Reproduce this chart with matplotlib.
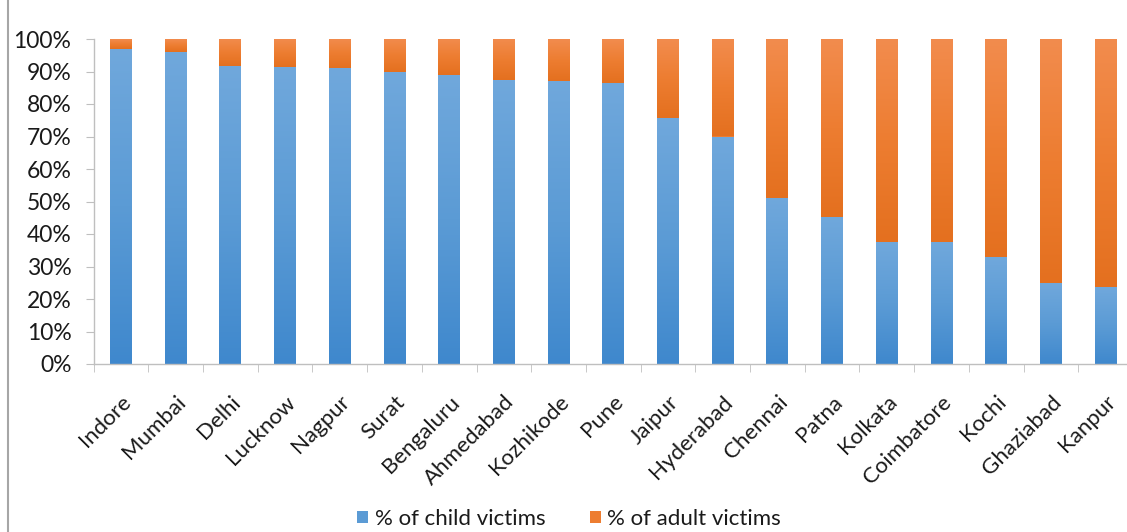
import numpy as np
import matplotlib.pyplot as plt
from matplotlib.lines import Line2D
from matplotlib.colors import LinearSegmentedColormap
from matplotlib.ticker import PercentFormatter

plt.rcParams['font.family'] = ['Lato', 'DejaVu Sans']

# share of child vs adult victims per city (%)
cities = ['Indore', 'Mumbai', 'Delhi', 'Lucknow', 'Nagpur', 'Surat', 'Bengaluru',
          'Ahmedabad', 'Kozhikode', 'Pune', 'Jaipur', 'Hyderabad', 'Chennai',
          'Patna', 'Kolkata', 'Coimbatore', 'Kochi', 'Ghaziabad', 'Kanpur']
child_pct = [97, 96, 91.6, 91.3, 91, 89.8, 88.9, 87.3, 87.2, 86.5, 75.8, 70,
             51.2, 45.3, 37.4, 37.4, 32.9, 24.8, 23.6]
adult_pct = [100 - c for c in child_pct]

blue = '#5b9bd5'
orange = '#ed7d31'
# light top -> darker bottom, like the office gradient fill
blue_grad = LinearSegmentedColormap.from_list('b', ['#3f88cd', '#5b9bd5', '#70a8dc'])
orange_grad = LinearSegmentedColormap.from_list('o', ['#e4701f', '#ed7d31', '#f28c4e'])

fig = plt.figure(figsize=(11.27, 5.32), dpi=100)
ax = fig.add_axes([93.6 / 1127, 1 - 364 / 532, (1133 - 93.6) / 1127, 325 / 532])

x = np.arange(len(cities))
child_bars = ax.bar(x, child_pct, width=0.4, color=blue, label='% of child victims')
adult_bars = ax.bar(x, adult_pct, width=0.4, bottom=child_pct, color=orange,
                    label='% of adult victims')

grad = np.linspace(0, 1, 256).reshape(-1, 1)
for bars, cmap in [(child_bars, blue_grad), (adult_bars, orange_grad)]:
    for p in bars:
        x0, y0 = p.get_x(), p.get_y()
        im = ax.imshow(grad, extent=[x0, x0 + p.get_width(), y0, y0 + p.get_height()],
                       origin='lower', aspect='auto', cmap=cmap, zorder=p.get_zorder() + 0.1)
        im.set_clip_path(p)

ax.set_xlim(-0.5, len(cities) - 0.5)
ax.set_ylim(0, 100)
ax.set_aspect('auto')
ax.set_yticks(np.arange(0, 101, 10))
ax.yaxis.set_major_formatter(PercentFormatter(decimals=0))

for s in ['top', 'right']:
    ax.spines[s].set_visible(False)
for s in ['left', 'bottom']:
    ax.spines[s].set_color('#bfbfbf')
    ax.spines[s].set_linewidth(1)

ax.tick_params(axis='y', length=6, color='#bfbfbf', labelsize=16.5, pad=10,
               labelcolor='#1a1a1a')
ax.set_xticks(x)
ax.set_xticklabels(cities, rotation=45, ha='right', va='top', rotation_mode='anchor',
                   fontsize=16, color='#1a1a1a')
ax.tick_params(axis='x', which='major', length=0, pad=20)
# category separators on the x axis
ax.set_xticks(np.arange(-0.5, len(cities), 1), minor=True)
ax.tick_params(axis='x', which='minor', length=6, color='#bfbfbf', direction='out')

fig.legend(loc='center', bbox_to_anchor=(569 / 1127, 1 - 519 / 532), ncol=2,
           frameon=False, fontsize=16, handlelength=0.5, handleheight=0.5,
           handletextpad=0.3, columnspacing=2.0, labelcolor='#1a1a1a')

# outer frame line on the left
fig.add_artist(Line2D([8 / 1127, 8 / 1127], [0, 1], color='#a6a6a6', lw=1.5))

fig.savefig('out.png', dpi=100)
